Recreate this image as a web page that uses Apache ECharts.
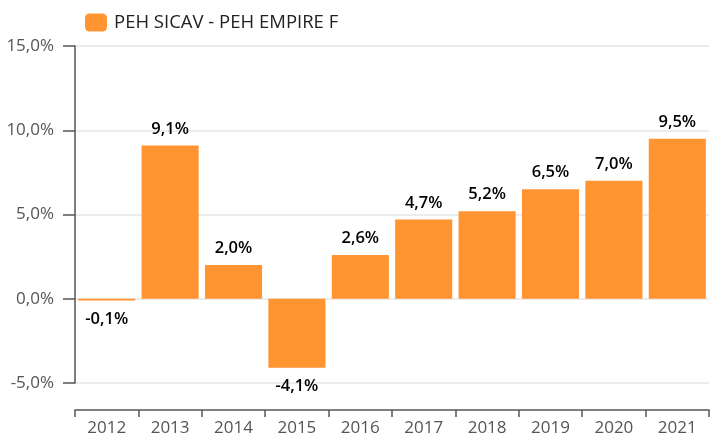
<!DOCTYPE html>
<html>
<head>
<meta charset="utf-8">
<script src="https://cdn.jsdelivr.net/npm/echarts@6/dist/echarts.min.js"></script>
<style>html,body{margin:0;padding:0;background:#fff}#c{width:711px;height:439px}</style>
</head>
<body>
<div id="c"></div>
<script>
var categories = ['2012','2013','2014','2015','2016','2017','2018','2019','2020','2021'];
var seriesName = 'PEH SICAV - PEH EMPIRE F';
var values = [-0.1, 9.1, 2.0, -4.1, 2.6, 4.7, 5.2, 6.5, 7.0, 9.5];
var yTicks = [-5, 0, 5, 10, 15];

function fmt(v){ return v.toFixed(1).replace('.', ',') + '%'; }

var chart = echarts.init(document.getElementById('c'));
chart.setOption({
  animation: false,
  textStyle: { fontFamily: 'Open Sans' },
  legend: {
    left: 80, top: 8,
    itemWidth: 22, itemHeight: 18, itemGap: 10,
    textStyle: { fontSize: 18.5, color: '#222', fontFamily: 'Open Sans', padding: [0,0,0,2] },
    data: [seriesName]
  },
  grid: { left: 75, right: 2, top: 46, bottom: 56, containLabel: false },
  xAxis: {
    type: 'category', data: categories, offset: 27,
    axisLine: { onZero: false, lineStyle: { color: '#555', width: 1.5 } },
    axisTick: { show: true, length: 7, lineStyle: { color: '#555', width: 1.5 } },
    axisLabel: { color: '#555', fontSize: 17, margin: 10, fontFamily: 'Open Sans' }
  },
  yAxis: {
    type: 'value', min: yTicks[0], max: yTicks[yTicks.length-1], interval: 5,
    axisLine: { show: true, lineStyle: { color: '#555', width: 1.5 } },
    axisTick: { show: true, length: 12, lineStyle: { color: '#555', width: 1.5 } },
    axisLabel: { color: '#555', fontSize: 17, margin: 21, fontFamily: 'Open Sans',
      formatter: function(v){ return fmt(v); } },
    splitLine: { lineStyle: { color: '#e6e6e6', width: 1.5 } }
  },
  series: [{
    name: seriesName, type: 'bar', barCategoryGap: '10%',
    itemStyle: { color: '#ff9430' },
    data: values.map(function(v){
      return { value: v, label: { position: v < 0 ? 'bottom' : 'top', distance: v < 0 ? 10 : 8 } };
    }),
    label: {
      show: true, color: '#000', fontSize: 16.5, fontWeight: 600,
      fontFamily: 'Open Sans',
      formatter: function(p){ return fmt(p.value); }
    }
  }]
});
</script>
</body>
</html>
